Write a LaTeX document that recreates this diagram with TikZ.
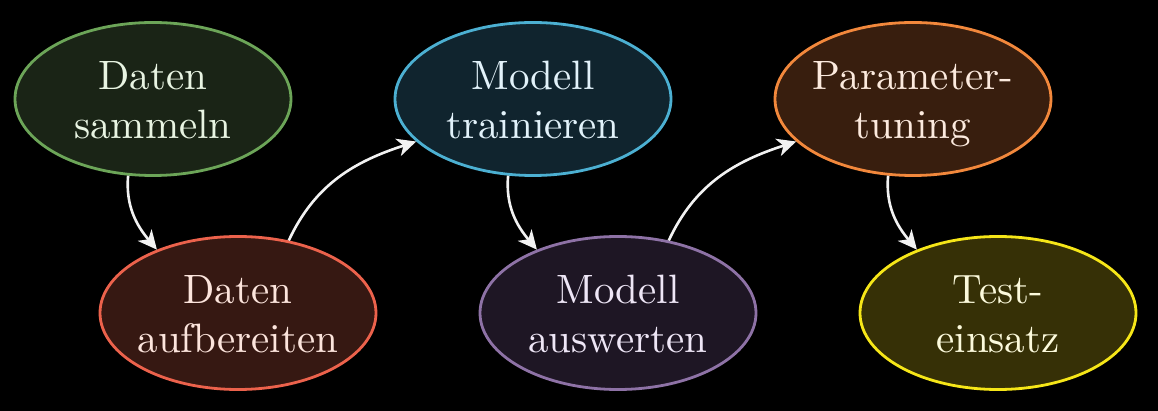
\documentclass[tikz,border=0pt]{standalone}
\usepackage{graphicx}
\usetikzlibrary{shapes.geometric,arrows.meta}
\definecolor{gborder}{RGB}{108,165,88}
\definecolor{gfill}{RGB}{26,36,22}
\definecolor{gtext}{RGB}{232,244,226}
\definecolor{rborder}{RGB}{236,98,76}
\definecolor{rfill}{RGB}{54,24,18}
\definecolor{rtext}{RGB}{252,228,220}
\definecolor{bborder}{RGB}{76,176,210}
\definecolor{bfill}{RGB}{16,36,46}
\definecolor{btext}{RGB}{226,242,250}
\definecolor{pborder}{RGB}{142,114,166}
\definecolor{pfill}{RGB}{30,22,36}
\definecolor{ptext}{RGB}{238,230,246}
\definecolor{oborder}{RGB}{242,136,60}
\definecolor{ofill}{RGB}{56,30,14}
\definecolor{otext}{RGB}{252,234,222}
\definecolor{yborder}{RGB}{246,230,24}
\definecolor{yfill}{RGB}{54,48,6}
\definecolor{ytext}{RGB}{252,250,220}
\definecolor{arrowcol}{RGB}{242,242,242}
% two centred lines, enlarged; zero width so the ellipse keeps its set size,
% and lowered a little while keeping the box's nominal height and depth
\newcommand\twolines[2]{\makebox[0pt][c]{\raisebox{-2.5pt}[\height][\depth]{%
  \scalebox{2.05}{\begin{tabular}{@{}c@{}}#1\\#2\end{tabular}}}}}
\begin{document}
\begin{tikzpicture}[x=0.5pt,y=-0.5pt,
  stage/.style={ellipse, line width=1.4pt, minimum width=138pt, minimum height=76.5pt,
    inner sep=0pt, align=center},
  flow/.style={draw=arrowcol, line width=1.3pt, -{Stealth[length=9.5pt,width=9pt,inset=2.8pt]}}]
  \fill[black] (0,0) rectangle (1158,411);
  \node[stage, draw=gborder, fill=gfill, text=gtext] (a) at (153,99) {\twolines{Daten}{sammeln}};
  \node[stage, draw=rborder, fill=rfill, text=rtext] (b) at (238,313) {\twolines{Daten}{aufbereiten}};
  \node[stage, draw=bborder, fill=bfill, text=btext] (c) at (533,99) {\twolines{Modell}{trainieren}};
  \node[stage, draw=pborder, fill=pfill, text=ptext] (d) at (618,313) {\twolines{Modell}{auswerten}};
  \node[stage, draw=oborder, fill=ofill, text=otext] (e) at (913,99) {\twolines{Parameter-}{tuning}};
  \node[stage, draw=yborder, fill=yfill, text=ytext] (f) at (998,313) {\twolines{Test-}{einsatz}};
  % downward hops
  \draw[flow] (a.252) to[out=-95, in=130] (b.142);
  \draw[flow] (c.252) to[out=-95, in=130] (d.142);
  \draw[flow] (e.252) to[out=-95, in=130] (f.142);
  % upward hops
  \draw[flow] (b.55) to[out=65, in=198] (c.200);
  \draw[flow] (d.55) to[out=65, in=198] (e.200);
\end{tikzpicture}
\end{document}
